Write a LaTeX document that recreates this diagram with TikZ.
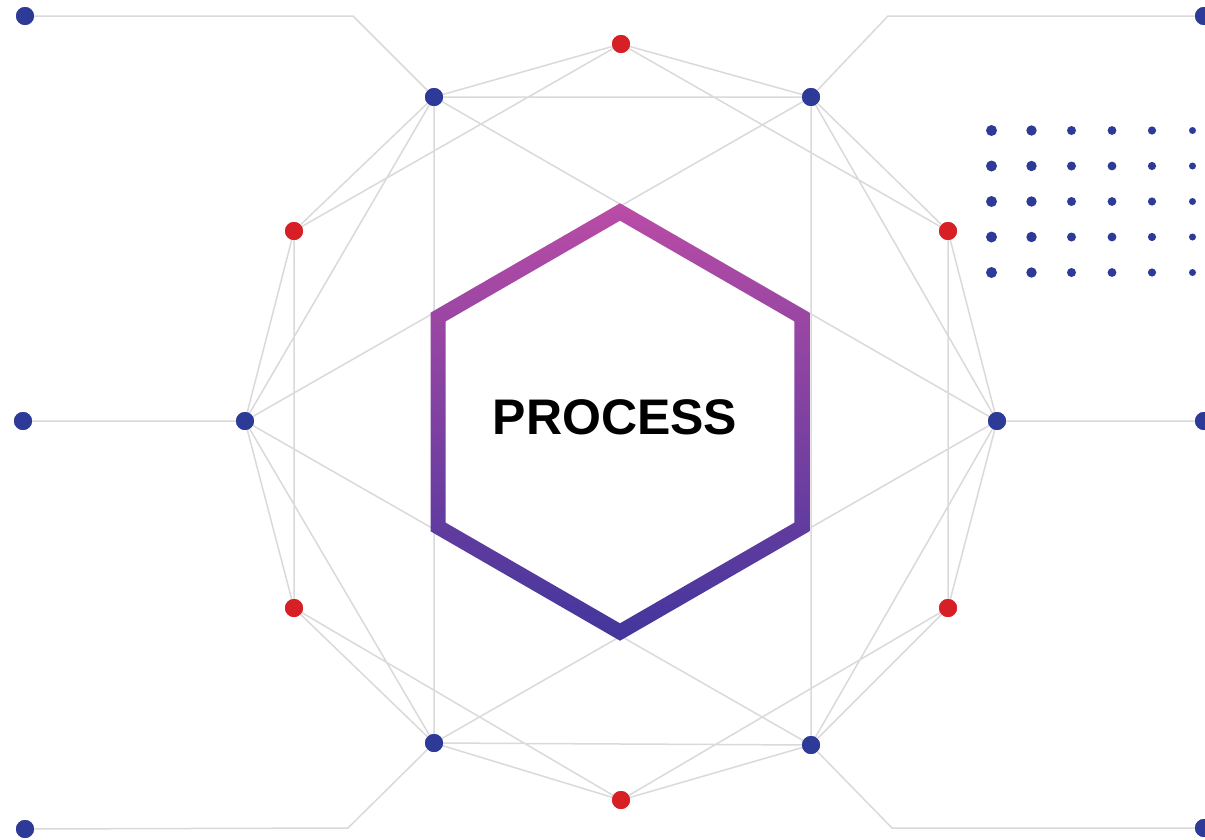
\documentclass[tikz,border=0pt]{standalone}
\usepackage{fontspec}
\setmainfont{Liberation Sans}
\usetikzlibrary{calc}
\definecolor{dotblue}{RGB}{46,58,152}
\definecolor{dotred}{RGB}{214,32,38}
\definecolor{linegray}{RGB}{218,218,218}
\definecolor{hextop}{RGB}{186,76,166}
\definecolor{hexbot}{RGB}{66,54,156}
\tikzset{
  bdot/.style={circle,fill=dotblue,inner sep=0pt,minimum size=18pt},
  rdot/.style={circle,fill=dotred,inner sep=0pt,minimum size=18pt},
  link/.style={draw=linegray,line width=1.5pt},
}
\begin{document}
\begin{tikzpicture}[x=1pt,y=-1pt]
\useasboundingbox (0,0) rectangle (1205,839);
\fill[white] (0,0) rectangle (1205,839);

% elbows
\coordinate (e1) at (353,16);
\coordinate (e2) at (888,16);
\coordinate (e5) at (348,828);
\coordinate (e6) at (892,828);

% outer dots
\node[bdot] (O1) at (25,16) {};
\node[bdot] (O2) at (1204,16) {};
\node[bdot] (O3) at (23,421) {};
\node[bdot] (O4) at (1204,421) {};
\node[bdot] (O5) at (25,829) {};
\node[bdot] (O6) at (1204,828) {};

% main nodes
\node[bdot] (B1) at (434,97) {};
\node[bdot] (B2) at (811,97) {};
\node[bdot] (B3) at (245,421) {};
\node[bdot] (B4) at (997,421) {};
\node[bdot] (B5) at (434,743) {};
\node[bdot] (B6) at (811,745) {};
\node[rdot] (R1) at (621,44) {};
\node[rdot] (R2) at (294,231) {};
\node[rdot] (R3) at (948,231) {};
\node[rdot] (R4) at (294,608) {};
\node[rdot] (R5) at (948,608) {};
\node[rdot] (R6) at (621,800) {};

% connectors
\path[link]
  (O1) -- (e1) -- (B1)
  (O2) -- (e2) -- (B2)
  (O3) -- (B3)
  (O4) -- (B4)
  (O5) -- (e5) -- (B5)
  (O6) -- (e6) -- (B6)
  (B1) -- (B2) (B2) -- (B4) (B4) -- (B6) (B6) -- (B5) (B5) -- (B3) (B3) -- (B1)
  (B1) -- (B5) (B2) -- (B6)
  (B1) -- (B4) (B4) -- (B5) (B2) -- (B3) (B3) -- (B6)
  (R1) -- (B1) (R1) -- (B2) (R1) -- (R2) (R1) -- (R3)
  (R2) -- (B1) (R2) -- (B3) (R2) -- (R4)
  (R3) -- (B2) (R3) -- (B4) (R3) -- (R5)
  (R4) -- (B3) (R4) -- (B5) (R4) -- (R6)
  (R5) -- (B4) (R5) -- (B6) (R5) -- (R6)
  (R6) -- (B5) (R6) -- (B6);

% dots on top of lines
\foreach \n in {O1,O2,O3,O4,O5,O6,B1,B2,B3,B4,B5,B6}
  \fill[dotblue] (\n.center) circle (9);
\foreach \n in {R1,R2,R3,R4,R5,R6}
  \fill[dotred] (\n.center) circle (9);

% hexagon
\coordinate (hc) at (620,422);
\fill[white] ($(hc)+(90:201)$) -- ($(hc)+(30:201)$) -- ($(hc)+(-30:201)$) -- ($(hc)+(-90:201)$) -- ($(hc)+(-150:201)$) -- ($(hc)+(150:201)$) -- cycle;
\shade[top color=hextop,bottom color=hexbot,even odd rule]
  ($(hc)+(90:218.7)$) -- ($(hc)+(30:218.7)$) -- ($(hc)+(-30:218.7)$) -- ($(hc)+(-90:218.7)$) -- ($(hc)+(-150:218.7)$) -- ($(hc)+(150:218.7)$) -- cycle
  ($(hc)+(90:201.3)$) -- ($(hc)+(30:201.3)$) -- ($(hc)+(-30:201.3)$) -- ($(hc)+(-90:201.3)$) -- ($(hc)+(-150:201.3)$) -- ($(hc)+(150:201.3)$) -- cycle;

\node[font=\bfseries\fontsize{50}{60}\selectfont,inner sep=0pt] (title) at (615,417) {PROCESS};

% dot grid
\foreach \x/\r in {991.5/5.5,1031.5/5.2,1071.5/4.5,1112/4.4,1152/4.1,1192.5/3.5}
  \foreach \y in {130.5,166,201.5,237,272.5}
    \fill[dotblue] (\x,\y) circle (\r);
\end{tikzpicture}
\end{document}
